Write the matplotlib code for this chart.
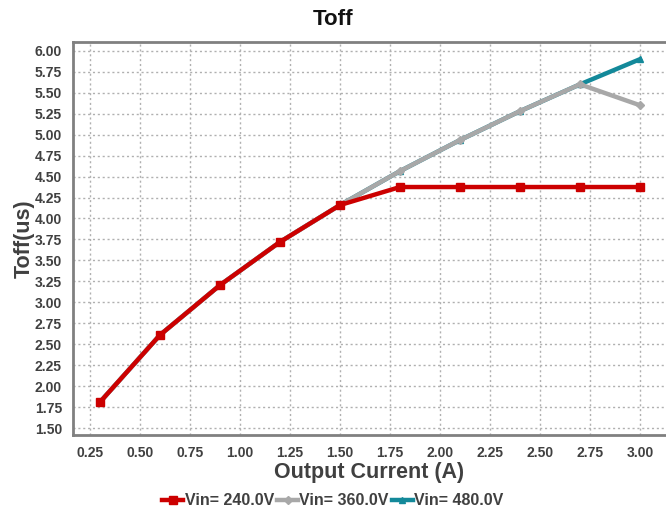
import matplotlib
matplotlib.use("Agg")
import matplotlib.pyplot as plt

current = [0.3, 0.6, 0.9, 1.2, 1.5, 1.8, 2.1, 2.4, 2.7, 3.0]
toff_240 = [1.81, 2.61, 3.205, 3.72, 4.16, 4.375, 4.375, 4.375, 4.375, 4.375]
toff_360 = [1.81, 2.61, 3.205, 3.72, 4.16, 4.565, 4.935, 5.28, 5.60, 5.35]
toff_480 = [1.81, 2.61, 3.205, 3.72, 4.16, 4.565, 4.935, 5.28, 5.60, 5.90]
labels = ["Vin= 240.0V", "Vin= 360.0V", "Vin= 480.0V"]
xticks = [0.25, 0.50, 0.75, 1.00, 1.25, 1.50, 1.75, 2.00, 2.25, 2.50, 2.75, 3.00]
yticks = [1.50 + 0.25 * i for i in range(19)]

plt.rcParams['font.family'] = ['Liberation Sans', 'DejaVu Sans']

fig = plt.figure(figsize=(6.66, 5.11), dpi=100)
ax = fig.add_axes([0.1096, 0.1487, 0.8904, 0.7683])

l3, = ax.plot(current, toff_480, color="#13899A", lw=3.2, marker="^", ms=5, zorder=3)
l2, = ax.plot(current, toff_360, color="#A8A8A8", lw=3.2, marker="D", ms=4, zorder=4)
l1, = ax.plot(current, toff_240, color="#CC0000", lw=3.2, marker="s", ms=5.5, zorder=5)

ax.set_xlim(0.165, 3.13)
ax.set_ylim(1.417, 6.10)
ax.set_xticks(xticks)
ax.set_xticklabels([f"{v:.2f}" for v in xticks])
ax.set_yticks(yticks)
ax.set_yticklabels([f"{v:.2f}" for v in yticks])
ax.tick_params(length=0, labelsize=10, labelcolor="#404040", pad=8)
for lab in ax.get_xticklabels() + ax.get_yticklabels():
    lab.set_fontweight("bold")
ax.grid(True, color="#B0B0B0", linestyle=(0, (1.5, 2)), linewidth=1.0)
ax.set_axisbelow(True)
for s in ["left", "bottom", "top"]:
    ax.spines[s].set_color("#808080")
    ax.spines[s].set_linewidth(2)
ax.spines["right"].set_visible(False)

fig.text(0.5, 0.962, "Toff", ha="center", va="center", fontsize=16, fontweight="bold", color="#111111")
ax.set_xlabel("Output Current (A)", fontsize=15.5, fontweight="bold", color="#404040", labelpad=1)
ax.set_ylabel("Toff(us)", fontsize=15.5, fontweight="bold", color="#404040", labelpad=0)

leg = fig.legend([l1, l2, l3], labels, loc="center", bbox_to_anchor=(0.5, 0.02), ncol=3,
                 frameon=False, handlelength=1.3, handletextpad=0.1, columnspacing=0.2,
                 prop={"weight": "bold", "size": 11.5})
for t in leg.get_texts():
    t.set_color("#404040")

fig.savefig("out.png", dpi=100)
